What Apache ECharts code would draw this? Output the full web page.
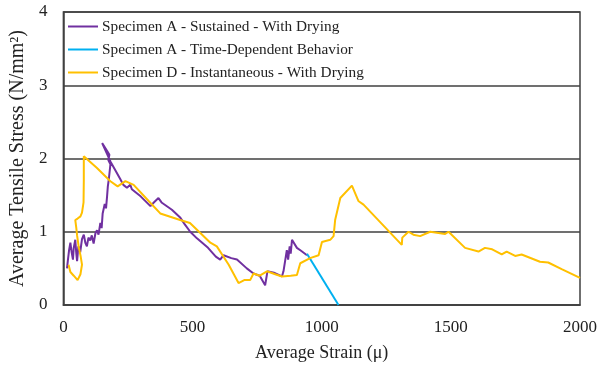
<!DOCTYPE html>
<html>
<head>
<meta charset="utf-8">
<script src="https://cdn.jsdelivr.net/npm/echarts@6/dist/echarts.min.js"></script>
<style>
  html, body { margin: 0; padding: 0; background: #fff; }
  #chart { width: 611px; height: 367px; }
</style>
</head>
<body>
<div id="chart"></div>
<script>
// strain (µ), stress (N/mm²) pairs
const sustainedA = [
  [14,0.50],[17,0.60],[22,0.75],[27,0.85],[32,0.72],[37,0.62],[40,0.78],[46,0.89],[50,0.70],[53,0.60],
  [58,0.80],[65,0.72],[72,0.90],[79,0.96],[85,0.85],[91,0.80],[97,0.92],[104,0.88],[110,0.95],[117,0.84],
  [124,0.98],[130,1.02],[136,0.96],[143,1.12],[148,1.05],[152,1.25],[156,1.26],[160,1.38],[165,1.32],
  [169,1.48],[172,1.62],[176,1.72],[182,1.92],[174,1.98],[178,2.05],[170,2.10],[150,2.21],[182,1.96],
  [220,1.72],[232,1.64],[246,1.60],[259,1.64],[265,1.58],[300,1.48],[337,1.35],[350,1.40],[368,1.46],
  [380,1.40],[420,1.30],[453,1.19],[470,1.10],[491,1.00],[517,0.91],[560,0.78],[590,0.66],[607,0.62],
  [620,0.68],[650,0.64],[672,0.62],[710,0.50],[736,0.43],[760,0.40],[781,0.27],[790,0.46],[815,0.44],
  [846,0.39],[852,0.46],[865,0.75],[870,0.62],[876,0.80],[880,0.70],[885,0.89],[891,0.87],[904,0.78],
  [920,0.74],[943,0.68]
];
const timeDepA = [[943,0.70],[1065,0.00]];
const instantD = [
  [20,0.55],[27,0.45],[40,0.40],[55,0.34],[66,0.42],[72,0.55],[66,0.68],[59,0.80],[53,0.95],[50,1.05],
  [46,1.16],[55,1.18],[66,1.21],[72,1.26],[78,1.40],[79,1.70],[79,2.03],[130,1.87],[182,1.69],[210,1.62],
  [240,1.69],[272,1.64],[330,1.42],[375,1.25],[452,1.16],[490,1.12],[569,0.85],[594,0.80],[640,0.55],
  [678,0.30],[700,0.34],[723,0.34],[736,0.43],[760,0.40],[788,0.46],[820,0.42],[846,0.39],[880,0.40],
  [904,0.41],[917,0.57],[955,0.64],[988,0.68],[994,0.66],[1001,0.86],[1033,0.89],[1046,0.94],[1052,1.16],
  [1072,1.46],[1117,1.63],[1142,1.42],[1162,1.37],[1310,0.82],[1312,0.92],[1336,1.00],[1355,0.96],
  [1381,0.94],[1420,1.00],[1478,0.97],[1491,1.00],[1555,0.78],[1607,0.73],[1632,0.78],[1660,0.76],
  [1697,0.69],[1716,0.73],[1749,0.67],[1774,0.69],[1845,0.59],[1877,0.58],[1929,0.49],[2000,0.37]
];
const seriesNames = [
  'Specimen A - Sustained - With Drying',
  'Specimen A - Time-Dependent Behavior',
  'Specimen D - Instantaneous - With Drying'
];
const seriesColors = ['#7030A0', '#00B0F0', '#FFC000'];

const font = '"Liberation Serif", "Times New Roman", serif';
const chart = echarts.init(document.getElementById('chart'), null, { renderer: 'canvas' });

const mkLine = (i, data) => ({
  name: seriesNames[i],
  type: 'line',
  data: data,
  showSymbol: false,
  symbol: 'none',
  lineStyle: { color: seriesColors[i], width: 2 },
  itemStyle: { color: seriesColors[i] },
  animation: false
});

chart.setOption({
  backgroundColor: '#fff',
  animation: false,
  grid: {
    left: 63, right: 31, top: 12, bottom: 62,
    show: true, borderColor: '#404040', borderWidth: 1.5
  },
  legend: {
    orient: 'vertical',
    left: 68, top: 19,
    padding: 0,
    itemWidth: 30, itemHeight: 2, itemGap: 8,
    icon: 'rect',
    textStyle: { fontFamily: font, fontSize: 15.3, color: '#222', padding: [0, 0, 0, -1] },
    data: seriesNames
  },
  xAxis: {
    type: 'value', min: 0, max: 2000, interval: 500,
    name: 'Average Strain (\u03bc)',
    nameLocation: 'middle', nameGap: 39,
    nameTextStyle: { fontFamily: font, fontSize: 18, color: '#222' },
    axisLine: { show: true, lineStyle: { color: '#404040', width: 1.5 } },
    axisTick: { show: false },
    axisLabel: { fontFamily: font, fontSize: 17, color: '#222', margin: 14, formatter: v => String(v) },
    splitLine: { show: false }
  },
  yAxis: {
    type: 'value', min: 0, max: 4, interval: 1,
    name: 'Average Tensile Stress (N/mm\u00b2)',
    nameLocation: 'middle', nameGap: 30, nameRotate: 90,
    nameTextStyle: { fontFamily: font, fontSize: 20, color: '#222' },
    axisLine: { show: true, lineStyle: { color: '#404040', width: 1.5 } },
    axisTick: { show: false },
    axisLabel: { fontFamily: font, fontSize: 17, color: '#222', margin: 16 },
    splitLine: { show: true, lineStyle: { color: '#404040', width: 1.5 } }
  },
  series: [
    mkLine(0, sustainedA),
    mkLine(1, timeDepA),
    mkLine(2, instantD)
  ]
});
</script>
</body>
</html>
